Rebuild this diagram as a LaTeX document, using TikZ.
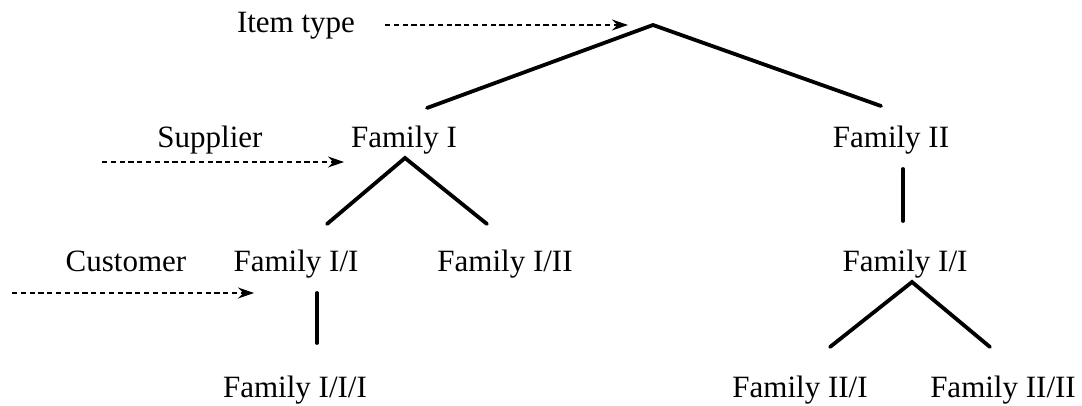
\documentclass[tikz,border=0pt]{standalone}
\usepackage{fontspec}
\setmainfont{Liberation Serif}
\usetikzlibrary{arrows.meta}

\begin{document}
\begin{tikzpicture}[
  x=0.5pt, y=-0.5pt,
  %% tree labels
  lbl/.style={
    font=\fontsize{15.5}{18}\selectfont, anchor=base, inner sep=0pt
  },
  %% solid tree branch
  branch/.style={
    line width=1.9pt, line cap=round
  },
  %% dashed pointer from a level name
  ptr/.style={
    -{Stealth[length=8pt,width=5.5pt]}, line width=0.65pt,
    dash pattern=on 2.6pt off 1.8pt
  },
]

%% ── Canvas ───────────────────────────────────────────────────────────────────
\useasboundingbox (0,0) rectangle (1082,406);

%% ── Level names ──────────────────────────────────────────────────────────────
\node[lbl] (itemtype) at (296,33)  {Item type};
\node[lbl] (supplier) at (210,148) {Supplier};
\node[lbl] (customer) at (126,272) {Customer};

%% ── Family labels ────────────────────────────────────────────────────────────
\node[lbl] (famI)     at (404,148) {Family I};
\node[lbl] (famII)    at (891,148) {Family II};
\node[lbl] (famIa)    at (296,272) {Family I/I};
\node[lbl] (famIb)    at (505,272) {Family I/II};
\node[lbl] (famIIa)   at (905,272) {Family I/I};
\node[lbl] (famIaa)   at (295,397) {Family I/I/I};
\node[lbl] (famIIaa)  at (800,397) {Family II/I};
\node[lbl] (famIIab)  at (1003,397){Family II/II};

%% ── Branch points ────────────────────────────────────────────────────────────
\coordinate (root)    at (653,25);
\coordinate (rootL)   at (427,108);
\coordinate (rootR)   at (881,106);

\coordinate (topI)    at (405,158);
\coordinate (topIL)   at (327,224);
\coordinate (topIR)   at (487,224);

\coordinate (topII)   at (903,169);
\coordinate (botII)   at (903,221);

\coordinate (topIa)   at (317,293);
\coordinate (botIa)   at (317,343);

\coordinate (topIIa)  at (912,282);
\coordinate (topIIaL) at (830,347);
\coordinate (topIIaR) at (990,347);

%% ── Tree branches ────────────────────────────────────────────────────────────
\draw[branch] (rootL) -- (root) -- (rootR);
\draw[branch] (topIL) -- (topI) -- (topIR);
\draw[branch] (topII) -- (botII);
\draw[branch] (topIa) -- (botIa);
\draw[branch] (topIIaL) -- (topIIa) -- (topIIaR);

%% ── Dashed pointers ──────────────────────────────────────────────────────────
\coordinate (itemS) at (385,25);
\coordinate (itemE) at (628,25);
\coordinate (supS)  at (102,162);
\coordinate (supE)  at (344,162);
\coordinate (cusS)  at (12,293);
\coordinate (cusE)  at (254,293);

\draw[ptr] (itemS) -- (itemE);
\draw[ptr] (supS)  -- (supE);
\draw[ptr] (cusS)  -- (cusE);

\end{tikzpicture}
\end{document}
